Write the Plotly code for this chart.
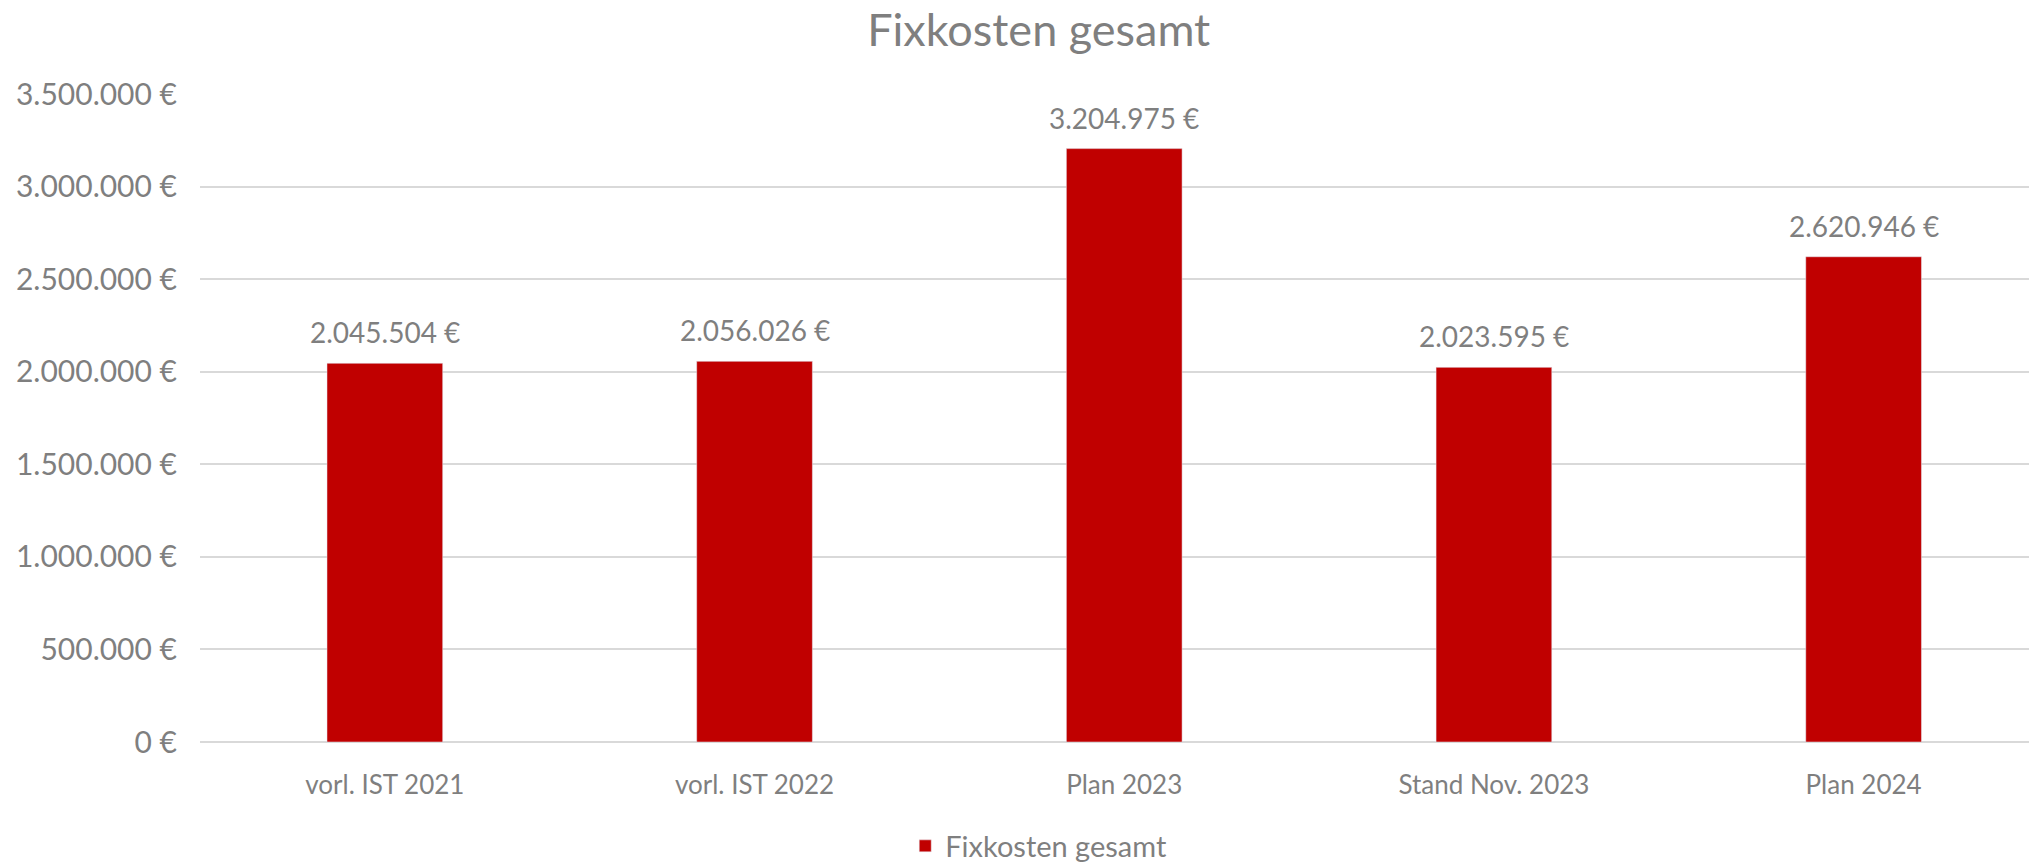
import plotly.graph_objects as go

# Data
categories = ["vorl. IST 2021", "vorl. IST 2022", "Plan 2023", "Stand Nov. 2023", "Plan 2024"]
fixkosten = [2045504, 2056026, 3204975, 2023595, 2620946]
y_ticks = [0, 500000, 1000000, 1500000, 2000000, 2500000, 3000000, 3500000]


def euro(v):
    return f"{v:,.0f}".replace(",", ".") + " €"


font_name = "Lato"
grey = "#7f7f7f"

fig = go.Figure()
fig.add_trace(go.Bar(
    x=categories,
    y=fixkosten,
    name="Fixkosten gesamt",
    marker_color="#C00000",
))

# data labels above the bars
for cat, val in zip(categories, fixkosten):
    fig.add_annotation(x=cat, y=val, text=euro(val), showarrow=False,
                       yanchor="bottom", yshift=12,
                       font=dict(size=28, color=grey, family=font_name))

# page body has an 8px margin, so the figure is a bit smaller than the window
fig.update_layout(
    width=2029, height=856,
    paper_bgcolor="white", plot_bgcolor="white",
    margin=dict(l=192, r=0, t=86, b=122),
    title=dict(text="Fixkosten gesamt", x=0.508, xanchor="center", y=0.974, yanchor="middle",
               font=dict(size=45, color=grey, family=font_name)),
    bargap=0.687,
    showlegend=True,
    legend=dict(orientation="h", xref="container", yref="container",
                x=0.508, xanchor="center", y=0.021, yanchor="middle",
                font=dict(size=29, color=grey, family=font_name)),
    xaxis=dict(range=[-0.5, 4.469], tickfont=dict(size=26, color=grey, family=font_name),
               showline=False, automargin=False,
               ticks="outside", ticklen=20, tickcolor="rgba(0,0,0,0)"),
    yaxis=dict(range=[0, 3500000], tickvals=y_ticks, ticktext=[euro(v) for v in y_ticks],
               tickfont=dict(size=30, color=grey, family=font_name), automargin=False,
               gridcolor="#d9d9d9", gridwidth=2, zeroline=True, zerolinecolor="#d9d9d9", zerolinewidth=2,
               ticks="outside", ticklen=16, tickcolor="rgba(0,0,0,0)"),
)

fig.write_html("out.html")
